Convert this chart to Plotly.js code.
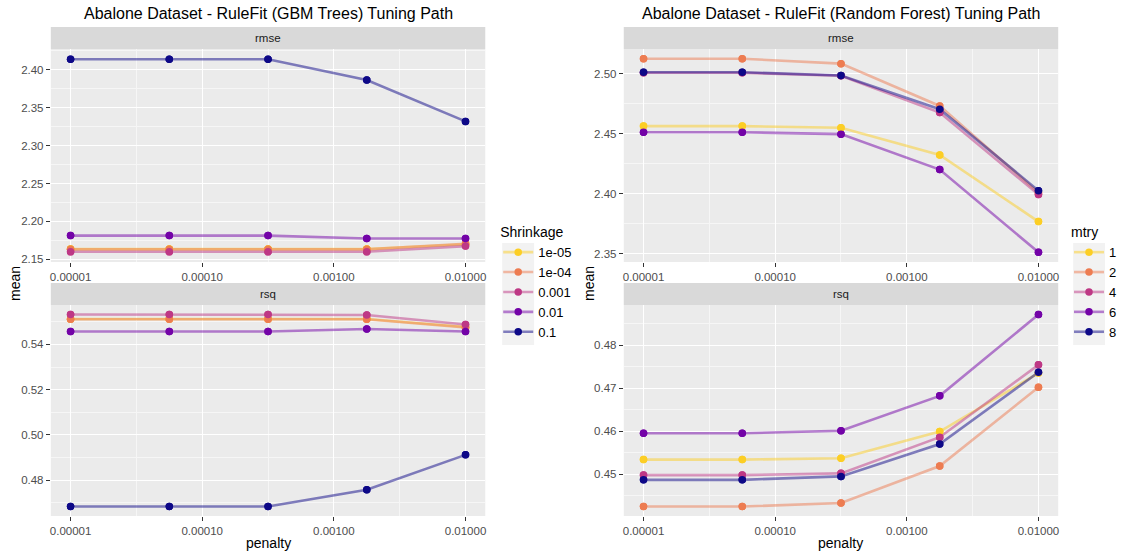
<!DOCTYPE html>
<html>
<head>
<meta charset="utf-8">
<script src="https://cdn.plot.ly/plotly-3.0.1.min.js"></script>
<style>
html,body{margin:0;padding:0;background:#fff;}
#chart{width:1122px;height:554px;}
</style>
</head>
<body>
<div id="chart"></div>
<script>
// ---------------- DATA ----------------
const penalty = [0.00001, 0.00005623, 0.0003162, 0.001778, 0.01];

const shrinkageLevels = ["1e-05", "1e-04", "0.001", "0.01", "0.1"];
const gbmRmse_1e05 = [2.1635, 2.1635, 2.1635, 2.1635, 2.1700];
const gbmRmse_1e04 = [2.1632, 2.1632, 2.1632, 2.1632, 2.1705];
const gbmRmse_0001 = [2.1600, 2.1600, 2.1600, 2.1600, 2.1675];
const gbmRmse_001  = [2.1813, 2.1813, 2.1813, 2.1776, 2.1776];
const gbmRmse_01   = [2.4140, 2.4140, 2.4140, 2.3867, 2.3320];

const gbmRsq_1e05 = [0.5512, 0.5512, 0.5512, 0.5512, 0.5477];
const gbmRsq_1e04 = [0.5511, 0.5511, 0.5511, 0.5511, 0.5475];
const gbmRsq_0001 = [0.5532, 0.5532, 0.5532, 0.5530, 0.5488];
const gbmRsq_001  = [0.5457, 0.5457, 0.5457, 0.5468, 0.5457];
const gbmRsq_01   = [0.4684, 0.4684, 0.4684, 0.4758, 0.4912];

const mtryLevels = ["1", "2", "4", "6", "8"];
const rfRmse_1 = [2.4565, 2.4565, 2.4551, 2.4324, 2.3769];
const rfRmse_2 = [2.5127, 2.5127, 2.5086, 2.4733, 2.4010];
const rfRmse_4 = [2.5010, 2.5010, 2.4985, 2.4678, 2.3994];
const rfRmse_6 = [2.4514, 2.4514, 2.4498, 2.4203, 2.3513];
const rfRmse_8 = [2.5014, 2.5014, 2.4987, 2.4706, 2.4027];

const rfRsq_1 = [0.4534, 0.4534, 0.4537, 0.4599, 0.4735];
const rfRsq_2 = [0.4425, 0.4425, 0.4433, 0.4519, 0.4702];
const rfRsq_4 = [0.4498, 0.4498, 0.4502, 0.4586, 0.4754];
const rfRsq_6 = [0.4595, 0.4595, 0.4601, 0.4682, 0.4871];
const rfRsq_8 = [0.4487, 0.4487, 0.4495, 0.4570, 0.4737];

const xTickVals = [0.00001, 0.0001, 0.001, 0.01];
const xTickText = ["0.00001", "0.00010", "0.00100", "0.01000"];
const xMinorVals = [0.00003162, 0.0003162, 0.003162];

// ---------------- STYLE ----------------
const colors = ["#FCCE25", "#ED7C51", "#BE3885", "#7303A7", "#0D0887"];
const lineColors = ["rgba(252,206,37,0.5)", "rgba(237,124,81,0.5)", "rgba(190,56,133,0.5)", "rgba(115,3,167,0.5)", "rgba(13,8,135,0.5)"];
const FONT = "Liberation Sans, Arial, sans-serif";
const W = 1122, H = 554;
const fx = p => p / W;
const fy = p => 1 - p / H;

const gbmRmse = [gbmRmse_1e05, gbmRmse_1e04, gbmRmse_0001, gbmRmse_001, gbmRmse_01];
const gbmRsq  = [gbmRsq_1e05, gbmRsq_1e04, gbmRsq_0001, gbmRsq_001, gbmRsq_01];
const rfRmse  = [rfRmse_1, rfRmse_2, rfRmse_4, rfRmse_6, rfRmse_8];
const rfRsq   = [rfRsq_1, rfRsq_2, rfRsq_4, rfRsq_6, rfRsq_8];

const traces = [];
function addFacet(seriesList, names, xa, ya, legendId, showLeg, lgPrefix) {
  seriesList.forEach((s, i) => {
    traces.push({
      type: "scatter", mode: "lines+markers", x: penalty, y: s,
      xaxis: xa, yaxis: ya, name: names[i], legend: legendId,
      legendgroup: lgPrefix + names[i], showlegend: showLeg,
      line: {color: lineColors[i], width: 2.6},
      marker: {color: colors[i], size: 7.5},
      hoverinfo: "skip"
    });
  });
  seriesList.forEach((s, i) => {
    traces.push({
      type: "scatter", mode: "markers", x: penalty, y: s,
      xaxis: xa, yaxis: ya, name: names[i], legend: legendId,
      legendgroup: lgPrefix + names[i], showlegend: false,
      marker: {color: colors[i], size: 7.5},
      hoverinfo: "skip"
    });
  });
}
addFacet(gbmRmse, shrinkageLevels, "x", "y", "legend", true, "g");
addFacet(gbmRsq, shrinkageLevels, "x2", "y2", "legend", false, "g");
addFacet(rfRmse, mtryLevels, "x3", "y3", "legend2", true, "r");
addFacet(rfRsq, mtryLevels, "x4", "y4", "legend2", false, "r");

const LX = [51, 487], RX = [626, 1062];
const TOPP = [49, 262], BOTP = [305, 516];

function xAxis(dom, anchor) {
  return {
    type: "log", domain: [fx(dom[0]), fx(dom[1])], anchor: anchor,
    range: [-5.15, -1.85],
    tickmode: "array", tickvals: xTickVals, ticktext: xTickText,
    showgrid: true, gridcolor: "#FFFFFF", gridwidth: 1,
    minor: {tickmode: "array", tickvals: xMinorVals, showgrid: true, gridcolor: "#F6F6F6", gridwidth: 1, ticks: ""},
    ticks: "outside", ticklen: 4, tickwidth: 1, tickcolor: "#333333",
    tickfont: {family: FONT, size: 11.5, color: "#4D4D4D"},
    zeroline: false, showline: false, fixedrange: true
  };
}
function yAxis(dom, anchor, range, dtick) {
  return {
    domain: [fy(dom[1]), fy(dom[0])], anchor: anchor,
    range: range, dtick: dtick, tick0: 0, tickformat: ".2f",
    showgrid: true, gridcolor: "#FFFFFF", gridwidth: 1,
    minor: {dtick: dtick / 2, tick0: 0, showgrid: true, gridcolor: "#F6F6F6", gridwidth: 1, ticks: ""},
    ticks: "outside", ticklen: 4, tickwidth: 1, tickcolor: "#333333",
    tickfont: {family: FONT, size: 11.5, color: "#4D4D4D"},
    zeroline: false, showline: false, fixedrange: true
  };
}

function strip(xr, yr) {
  return {type: "rect", xref: "paper", yref: "paper", x0: fx(xr[0]), x1: fx(xr[1]), y0: fy(yr[1]), y1: fy(yr[0]),
          fillcolor: "#D9D9D9", line: {width: 0}, layer: "below"};
}
function keyBg(x0, x1, y0, y1) {
  return {type: "rect", xref: "paper", yref: "paper", x0: fx(x0), x1: fx(x1), y0: fy(y1), y1: fy(y0),
          fillcolor: "#F2F2F2", line: {width: 0}, layer: "below"};
}
function ann(text, x, y, size, color, extra) {
  return Object.assign({text: text, xref: "paper", yref: "paper", x: fx(x), y: fy(y), showarrow: false,
    xanchor: "center", yanchor: "middle", font: {family: FONT, size: size, color: color}}, extra || {});
}

const layout = {
  width: W, height: H,
  margin: {l: 0, r: 0, t: 0, b: 0},
  paper_bgcolor: "#FFFFFF", plot_bgcolor: "#EBEBEB",
  font: {family: FONT},
  xaxis: xAxis(LX, "y"), yaxis: yAxis(TOPP, "x", [2.1465, 2.4275], 0.05),
  xaxis2: xAxis(LX, "y2"), yaxis2: yAxis(BOTP, "x2", [0.4642, 0.5574], 0.02),
  xaxis3: xAxis(RX, "y3"), yaxis3: yAxis(TOPP, "x3", [2.3432, 2.5208], 0.05),
  xaxis4: xAxis(RX, "y4"), yaxis4: yAxis(BOTP, "x4", [0.4403, 0.4893], 0.01),
  showlegend: true,
  legend: {x: fx(500), y: fy(219), xanchor: "left", yanchor: "top", bgcolor: "rgba(0,0,0,0)",
    title: {text: "Shrinkage", font: {family: FONT, size: 14, color: "#000000"}},
    font: {family: FONT, size: 13, color: "#000000"}, tracegroupgap: 0, itemclick: false, itemdoubleclick: false},
  legend2: {x: fx(1073), y: fy(219), xanchor: "left", yanchor: "top", bgcolor: "rgba(0,0,0,0)",
    title: {text: "mtry", font: {family: FONT, size: 14, color: "#000000"}},
    font: {family: FONT, size: 13, color: "#000000"}, tracegroupgap: 0, itemclick: false, itemdoubleclick: false},
  shapes: [
    strip(LX, [27, TOPP[0]]), strip(LX, [283, BOTP[0]]),
    strip(RX, [27, TOPP[0]]), strip(RX, [283, BOTP[0]]),
    keyBg(504, 536, 243, 345),
    keyBg(1077, 1109, 243, 345)
  ],
  annotations: [
    ann("Abalone Dataset - RuleFit (GBM Trees) Tuning Path", (LX[0] + LX[1]) / 2, 13, 16, "#000000"),
    ann("Abalone Dataset - RuleFit (Random Forest) Tuning Path", (RX[0] + RX[1]) / 2, 13, 16, "#000000"),
    ann("rmse", (LX[0] + LX[1]) / 2, 38, 11.5, "#1A1A1A"),
    ann("rsq", (LX[0] + LX[1]) / 2, 294, 11.5, "#1A1A1A"),
    ann("rmse", (RX[0] + RX[1]) / 2, 38, 11.5, "#1A1A1A"),
    ann("rsq", (RX[0] + RX[1]) / 2, 294, 11.5, "#1A1A1A"),
    ann("penalty", (LX[0] + LX[1]) / 2, 543, 14, "#000000"),
    ann("penalty", (RX[0] + RX[1]) / 2, 543, 14, "#000000"),
    ann("mean", 15, 283, 14, "#000000", {textangle: -90}),
    ann("mean", 591, 283, 14, "#000000", {textangle: -90})
  ]
};

Plotly.newPlot("chart", traces, layout, {displayModeBar: false, scrollZoom: false, doubleClick: false, showTips: false});
</script>
</body>
</html>
